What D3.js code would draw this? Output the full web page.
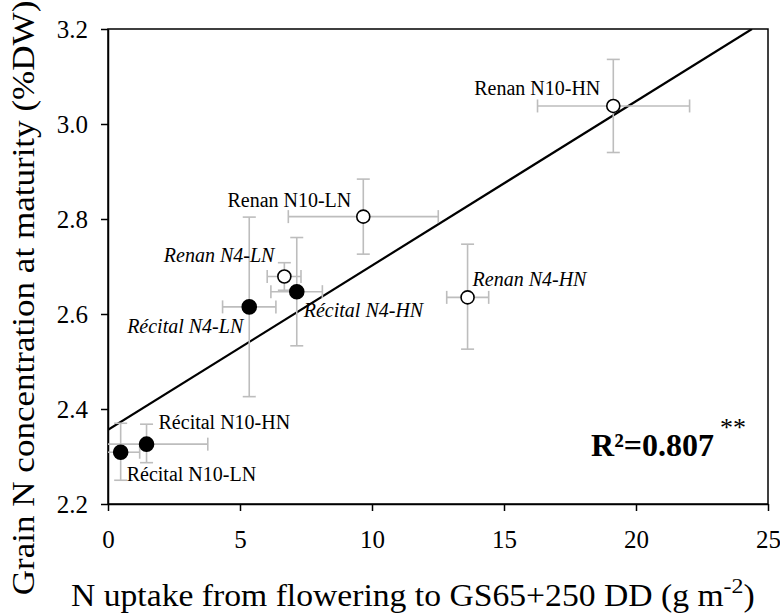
<!DOCTYPE html>
<html><head><meta charset="utf-8">
<script src="https://cdn.jsdelivr.net/npm/d3@7"></script>
<style>body{margin:0;background:#fff}svg{display:block}text{font-family:"Liberation Serif","Times New Roman",serif}</style>
</head><body><svg id="c" width="780" height="615"></svg>
<script>
// ---- data ----
const names = ["Récital N10-LN","Récital N10-HN","Récital N4-LN","Récital N4-HN","Renan N4-LN","Renan N10-LN","Renan N4-HN","Renan N10-HN"];
const cultivar = ["Récital","Récital","Récital","Récital","Renan","Renan","Renan","Renan"];
const italic = [false,false,true,true,true,false,true,false];
const xVal = [0.48,1.46,5.35,7.15,6.68,9.67,13.62,19.14];
const yVal = [2.309,2.326,2.615,2.647,2.679,2.805,2.635,3.038];
const xLo = [0.0,0.0,4.34,6.17,6.03,6.83,12.83,16.27];
const xHi = [1.2,3.78,6.36,8.12,7.31,12.51,14.42,22.03];
const yLo = [2.25,2.287,2.426,2.533,2.65,2.726,2.526,2.94];
const yHi = [2.37,2.368,2.804,2.761,2.708,2.884,2.747,3.136];
const xTicks = [0,5,10,15,20,25];
const yTicks = [2.2,2.4,2.6,2.8,3.0,3.2];
const fitIntercept = 2.356, fitSlope = 0.0346;
const r2Text = "R²=0.807";

// ---- layout ----
const L=108,R=768,T=29,B=504;
const svg=d3.select("#c");
const x=d3.scaleLinear().domain([0,25]).range([L,R]);
const y=d3.scaleLinear().domain([2.2,3.2]).range([B,T]);
const labelPos=[
 {dx:6,dy:29,a:"start"},{dx:12,dy:-15,a:"start"},{dx:-6,dy:26,a:"end"},{dx:7,dy:25,a:"start"},
 {dx:-10,dy:-14,a:"end"},{dx:-12,dy:-10,a:"end"},{dx:5,dy:-11,a:"start"},{dx:-13,dy:-11,a:"end"}];

// frame
svg.append("rect").attr("x",L).attr("y",T).attr("width",R-L).attr("height",B-T)
  .attr("fill","none").attr("stroke","#000").attr("stroke-width",1.5);

// axes
const ax=svg.append("g").attr("transform",`translate(0,${B})`)
  .call(d3.axisBottom(x).tickValues(xTicks).tickSize(7).tickSizeOuter(0).tickFormat(d3.format("d")));
const ay=svg.append("g").attr("transform",`translate(${L},0)`)
  .call(d3.axisLeft(y).tickValues(yTicks).tickSize(7).tickSizeOuter(0).tickFormat(d3.format(".1f")));
[ax,ay].forEach(g=>{g.select(".domain").attr("stroke","#000").attr("stroke-width",1.5);
  g.selectAll(".tick line").attr("stroke","#000").attr("stroke-width",1.5);
  g.selectAll(".tick text").attr("font-size",25).attr("fill","#000").attr("font-family","Liberation Serif");});
ax.selectAll(".tick text").attr("dy",null).attr("y",44);
ay.selectAll(".tick text").attr("x",-20).attr("dy","0.35em");

// clip
svg.append("clipPath").attr("id","clip").append("rect").attr("x",L).attr("y",T).attr("width",R-L).attr("height",B-T);
const plot=svg.append("g").attr("clip-path","url(#clip)");

// fit line
const xEnd=(3.2-fitIntercept)/fitSlope;
plot.append("line").attr("x1",x(0)).attr("y1",y(fitIntercept)).attr("x2",x(xEnd)).attr("y2",y(3.2))
  .attr("stroke","#000").attr("stroke-width",2.2);

// error bars
const eb="#bdbdbd", cap=6.5;
names.forEach((n,i)=>{
  const g=plot.append("g").attr("stroke",eb).attr("stroke-width",1.6);
  g.append("line").attr("x1",x(xLo[i])).attr("x2",x(xHi[i])).attr("y1",y(yVal[i])).attr("y2",y(yVal[i]));
  g.append("line").attr("x1",x(xVal[i])).attr("x2",x(xVal[i])).attr("y1",y(yLo[i])).attr("y2",y(yHi[i]));
  [xLo[i],xHi[i]].forEach(v=>{ if(v>0) g.append("line").attr("x1",x(v)).attr("x2",x(v)).attr("y1",y(yVal[i])-cap).attr("y2",y(yVal[i])+cap);});
  [yLo[i],yHi[i]].forEach(v=>g.append("line").attr("x1",x(xVal[i])-cap).attr("x2",x(xVal[i])+cap).attr("y1",y(v)).attr("y2",y(v)));
});

// points
names.forEach((n,i)=>{
  const filled=cultivar[i]==="Récital";
  plot.append("circle").attr("cx",x(xVal[i])).attr("cy",y(yVal[i])).attr("r",filled?7:6.5)
    .attr("fill",filled?"#000":"#fff").attr("stroke","#000").attr("stroke-width",1.6);
});

// point labels
names.forEach((n,i)=>{
  const p=labelPos[i];
  svg.append("text").attr("x",x(xVal[i])+p.dx).attr("y",y(yVal[i])+p.dy).attr("text-anchor",p.a)
    .attr("font-size",20).attr("font-style",italic[i]?"italic":"normal").attr("fill","#000").text(n);
});

// R2
svg.append("text").attr("x",714).attr("y",456).attr("text-anchor","end")
  .attr("font-size",32).attr("font-weight","bold").text(r2Text);
svg.append("text").attr("x",720).attr("y",436).attr("font-size",26).text("**");

// axis titles (stretched horizontally to match reference widths)
const xg=svg.append("g");
const xt=xg.append("text").attr("x",0).attr("y",0).attr("font-size",31);
xt.append("tspan").text("N uptake from flowering to GS65+250 DD (g m");
xt.append("tspan").attr("dy",-13).attr("font-size",22).text("-2");
xt.append("tspan").attr("dy",13).text(")");
const xw=xt.node().getBBox().width;
xg.attr("transform",`translate(71,606) scale(${684/xw},1)`);

const yg=svg.append("g");
const yt=yg.append("text").attr("text-anchor","middle").attr("font-size",31).text("Grain N concentration at maturity (%DW)");
const yw=yt.node().getBBox().width;
yg.attr("transform",`translate(34,298) rotate(-90) scale(${595/yw},1)`);
</script></body></html>
